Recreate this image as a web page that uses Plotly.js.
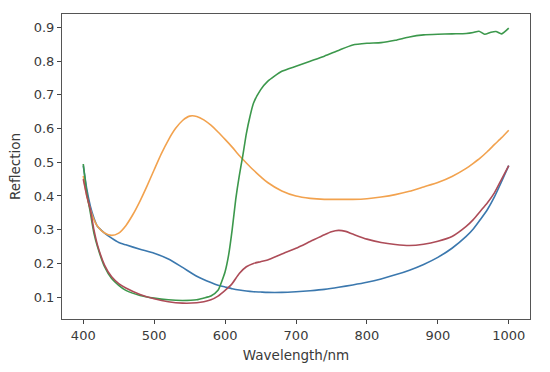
<!DOCTYPE html>
<html>
<head>
<meta charset="utf-8">
<script src="https://cdn.plot.ly/plotly-3.0.1.min.js"></script>
<style>html,body{margin:0;padding:0;background:#fff;}#chart{width:550px;height:372px;}</style>
</head>
<body>
<div id="chart"></div>
<script>
// Wavelengths (nm) for each series
const wlBlue = [400,405,410,415,420,430,440,450,460,480,500,520,540,560,580,590,600,610,620,630,640,650,660,680,700,720,740,760,780,800,820,840,860,880,900,920,940,950,960,970,980,990,1000];
const blue   = [0.49,0.42,0.37,0.335,0.31,0.29,0.275,0.262,0.255,0.242,0.23,0.213,0.188,0.162,0.143,0.135,0.13,0.125,0.121,0.118,0.116,0.115,0.114,0.114,0.116,0.119,0.123,0.129,0.136,0.144,0.154,0.166,0.18,0.197,0.218,0.245,0.28,0.302,0.33,0.36,0.398,0.443,0.49];

const wlOrange = [400,405,410,415,420,430,440,450,460,470,480,490,500,510,520,530,540,550,560,570,580,590,600,610,620,630,640,660,680,700,720,740,760,780,800,820,840,860,880,900,920,940,950,960,970,980,990,1000];
const orange   = [0.46,0.40,0.36,0.33,0.31,0.29,0.283,0.29,0.312,0.345,0.385,0.43,0.478,0.525,0.566,0.6,0.624,0.637,0.636,0.626,0.61,0.59,0.568,0.545,0.52,0.498,0.477,0.44,0.415,0.4,0.393,0.39,0.39,0.39,0.392,0.397,0.404,0.414,0.427,0.44,0.458,0.482,0.497,0.513,0.532,0.553,0.573,0.595];

const wlGreen = [400,405,410,415,420,430,440,450,460,480,500,520,540,560,570,580,590,595,600,605,610,615,620,625,630,635,640,650,660,680,700,720,740,760,780,800,820,840,860,880,900,920,940,950,958,966,975,982,990,1000];
const green   = [0.495,0.41,0.35,0.29,0.25,0.19,0.155,0.135,0.12,0.105,0.097,0.092,0.09,0.092,0.097,0.103,0.12,0.145,0.175,0.225,0.30,0.39,0.46,0.52,0.585,0.635,0.675,0.715,0.74,0.77,0.785,0.8,0.815,0.832,0.848,0.853,0.855,0.862,0.872,0.878,0.88,0.881,0.882,0.885,0.889,0.88,0.886,0.888,0.881,0.898];

const wlRed = [400,405,410,415,420,430,440,450,460,480,500,520,540,560,570,580,590,600,610,620,630,640,650,660,680,700,720,740,750,760,770,780,800,820,840,860,880,900,920,940,950,960,970,980,990,1000];
const red   = [0.45,0.40,0.36,0.30,0.255,0.195,0.16,0.14,0.127,0.108,0.095,0.086,0.082,0.083,0.086,0.092,0.103,0.12,0.14,0.17,0.19,0.2,0.205,0.21,0.228,0.245,0.265,0.285,0.294,0.298,0.295,0.287,0.272,0.262,0.256,0.253,0.257,0.266,0.28,0.31,0.33,0.355,0.38,0.41,0.45,0.49];

const xTicks = [400,500,600,700,800,900,1000];
const yTicks = [0.1,0.2,0.3,0.4,0.5,0.6,0.7,0.8,0.9];

const mk = (x, y, c) => ({x: x, y: y, type: 'scatter', mode: 'lines', line: {color: c, width: 1.6, shape: 'spline', smoothing: 0.6}, hoverinfo: 'skip'});
const data = [
  mk(wlBlue, blue, '#3b78ae'),
  mk(wlOrange, orange, '#f2a24e'),
  mk(wlGreen, green, '#3c984c'),
  mk(wlRed, red, '#ad4c58')
];

const font = {family: 'DejaVu Sans, sans-serif', size: 13, color: '#3a3a3a'};
const titleFont = {family: 'DejaVu Sans, sans-serif', size: 13.5, color: '#3a3a3a'};
const layout = {
  width: 550, height: 372,
  margin: {l: 62, r: 20, t: 14, b: 53, pad: 0},
  paper_bgcolor: '#fff', plot_bgcolor: '#fff',
  showlegend: false,
  font: font,
  xaxis: {
    range: [370, 1030], tickvals: xTicks, ticktext: xTicks.map(String),
    ticks: 'outside', ticklen: 4, tickwidth: 1, tickcolor: '#444',
    showgrid: false, zeroline: false,
    showline: true, linecolor: '#555', linewidth: 1, mirror: true,
    tickfont: font,
    title: {text: 'Wavelength/nm', font: titleFont, standoff: 8}
  },
  yaxis: {
    range: [0.035, 0.94], tickvals: yTicks, ticktext: yTicks.map(v => v.toFixed(1)),
    ticks: 'outside', ticklen: 4, tickwidth: 1, tickcolor: '#444',
    showgrid: false, zeroline: false,
    showline: true, linecolor: '#555', linewidth: 1, mirror: true,
    tickfont: font,
    title: {text: 'Reflection', font: titleFont, standoff: 9}
  }
};
Plotly.newPlot('chart', data, layout, {staticPlot: true, displayModeBar: false});
</script>
</body>
</html>
